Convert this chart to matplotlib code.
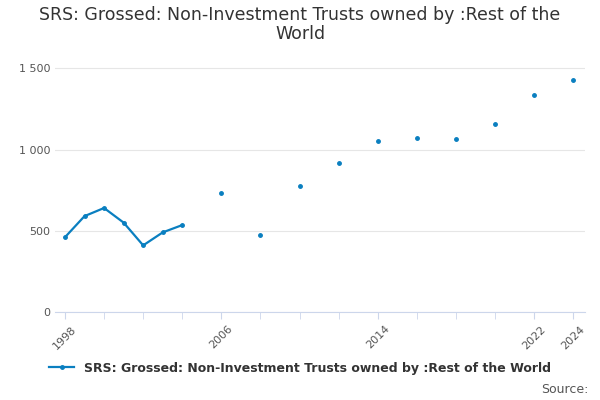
import numpy as np
import matplotlib.pyplot as plt

years = list(range(1998, 2025))
known = {1998: 460, 1999: 590, 2000: 640, 2001: 550, 2002: 410, 2003: 490, 2004: 535,
         2006: 735, 2008: 475, 2010: 775, 2012: 915, 2014: 1050, 2016: 1070,
         2018: 1065, 2020: 1160, 2022: 1335, 2024: 1425}
values = [known.get(y, np.nan) for y in years]
label = "SRS: Grossed: Non-Investment Trusts owned by :Rest of the World"
color = "#0a7fc0"

fig, ax = plt.subplots(figsize=(6, 4), dpi=100)
fig.subplots_adjust(left=0.092, right=0.975, top=0.87, bottom=0.22)
ax.plot(years, values, color=color, lw=1.6, marker="o", ms=2.5, label=label)

ax.set_ylim(0, 1600)
ax.set_yticks([0, 500, 1000, 1500])
ax.set_yticklabels(["0", "500", "1 000", "1 500"])
ax.set_xlim(1997.5, 2024.6)
ax.set_xticks(range(1998, 2025, 2), minor=True)
ax.set_xticks([1998, 2006, 2014, 2022, 2024])
ax.set_xticklabels(["1998", "2006", "2014", "2022", "2024"], rotation=45)
ax.tick_params(axis="x", which="both", length=5, color="#ccd6eb", labelsize=8, labelcolor="#555")
ax.tick_params(axis="y", length=0, labelsize=8, labelcolor="#555")
ax.grid(axis="y", color="#e6e6e6", lw=0.8)
for s in ["top", "right", "left"]:
    ax.spines[s].set_visible(False)
ax.spines["bottom"].set_color("#ccd6eb")

fig.suptitle("SRS: Grossed: Non-Investment Trusts owned by :Rest of the\nWorld",
             fontsize=12.5, color="#333", y=0.985, linespacing=1.1)
fig.legend(loc="lower center", bbox_to_anchor=(0.5, 0.035), frameon=False,
           prop={"size": 9, "weight": "bold"}, labelcolor="#333", handlelength=2)
fig.text(0.98, 0.01, "Source:", ha="right", va="bottom", fontsize=9, color="#555")
fig.savefig("out.png")
